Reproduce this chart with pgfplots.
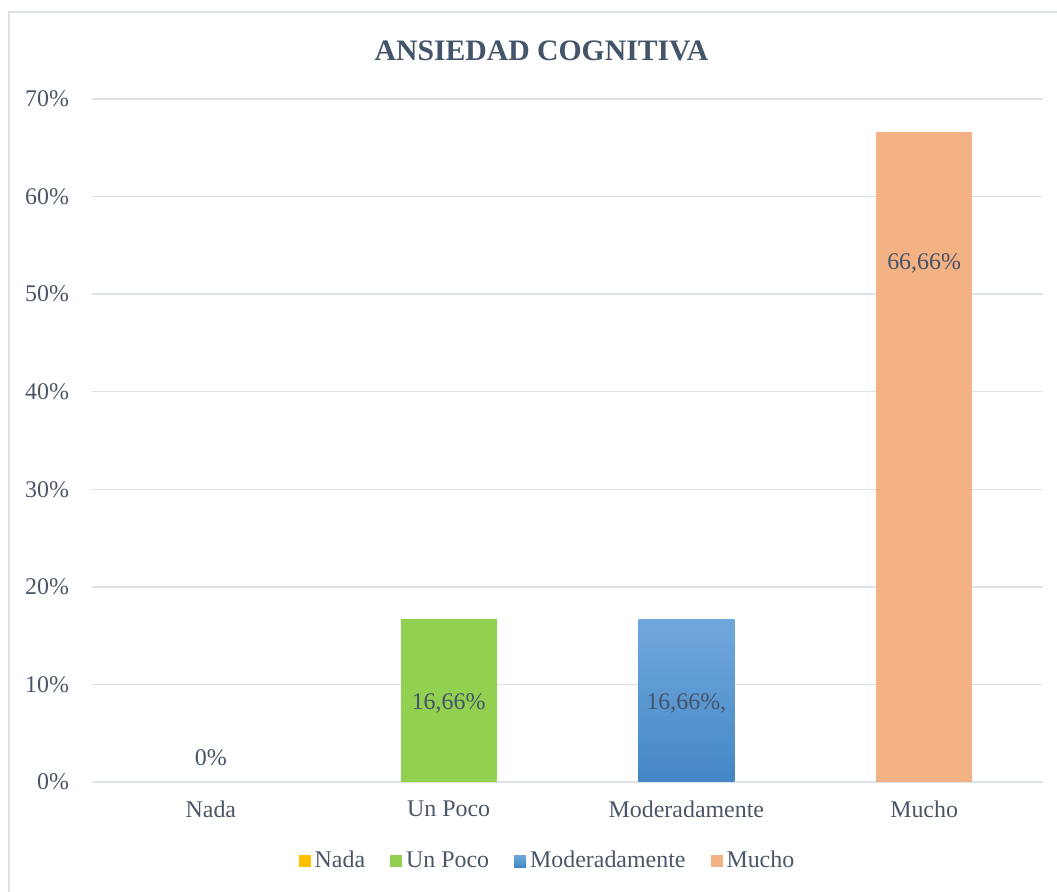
\documentclass[border=0pt]{standalone}
\usepackage{fontspec}
\setmainfont{Liberation Serif}
\usepackage{pgfplots}
\pgfplotsset{compat=1.18}
\definecolor{txt}{HTML}{44546A}
\definecolor{tickc}{HTML}{4A5668}
\definecolor{gridc}{HTML}{DDE2E8}
\definecolor{nadac}{HTML}{FFC000}
\definecolor{pococ}{HTML}{92D050}
\definecolor{modtop}{HTML}{70A8DC}
\definecolor{modbot}{HTML}{4487C6}
\definecolor{muchoc}{HTML}{F4B183}
\begin{document}
\begin{tikzpicture}
\useasboundingbox (0,0) rectangle (528.5bp,446bp);
\draw[gridc, line width=0.75bp] (4.5bp,0) -- (4.5bp,440bp) -- (528.5bp,440bp);
\node[font=\fontsize{14.9}{17}\selectfont\bfseries, text=txt] at (270.75bp,420.5bp) {ANSIEDAD COGNITIVA};
\begin{axis}[
  at={(46bp,55bp)}, anchor=south west,
  scale only axis, width=475.5bp, height=341.5bp,
  xmin=-0.5, xmax=3.5, ymin=0, ymax=70,
  enlargelimits=false,
  ybar, bar width=48bp,
  axis lines*=left,
  axis line style={-, gridc, line width=0.75bp},
  y axis line style={draw=none},
  ymajorgrids, grid style={gridc, line width=0.75bp},
  ytick={0,10,...,70},
  yticklabel={\pgfmathprintnumber{\tick}\%},
  /pgf/number format/assume math mode=true,
  ytick style={draw=none},
  xtick={0,1,2,3},
  xticklabels={Nada, Un Poco, Moderadamente, Mucho},
  xtick style={draw=none},
  major tick length=0pt,
  extra x ticks={-0.5,0.5,1.5,2.5,3.5},
  extra x tick labels={},
  extra x tick style={tick align=outside, major tick length=4bp, tick style={draw=gridc, line width=0.75bp}},
  tick label style={font=\fontsize{12}{14}\selectfont, text=tickc},
  yticklabel style={xshift=-8bp},
  xticklabel style={yshift=-6bp},
  legend style={at={(0.48,-0.1157)}, anchor=center, draw=none, fill=none,
    font=\fontsize{12}{14}\selectfont, text=tickc,
    nodes={inner xsep=2bp},
    /tikz/every even column/.append style={column sep=10.5bp}},
  legend columns=4,
  legend image code/.code={\fill[#1] (0bp,-3bp) rectangle (6bp,3bp);},
]
\addplot[bar shift=0pt, fill=nadac, draw=none] coordinates {(0,0)};
\addplot[bar shift=0pt, fill=pococ, draw=none] coordinates {(1,16.66)};
\addplot[bar shift=0pt, draw=none, top color=modtop, bottom color=modbot] coordinates {(2,16.66)};
\addplot[bar shift=0pt, fill=muchoc, draw=none] coordinates {(3,66.66)};
\legend{Nada, Un Poco, Moderadamente, Mucho}
\node[font=\fontsize{12}{14}\selectfont, text=txt] at (axis cs:0,2.46) {0\%};
\node[font=\fontsize{12}{14}\selectfont, text=txt] at (axis cs:1,8.1) {16,66\%};
\node[font=\fontsize{12}{14}\selectfont, text=txt] at (axis cs:2,8.1) {16,66\%,};
\node[font=\fontsize{12}{14}\selectfont, text=txt] at (axis cs:3,53.2) {66,66\%};
\end{axis}
\end{tikzpicture}
\end{document}
